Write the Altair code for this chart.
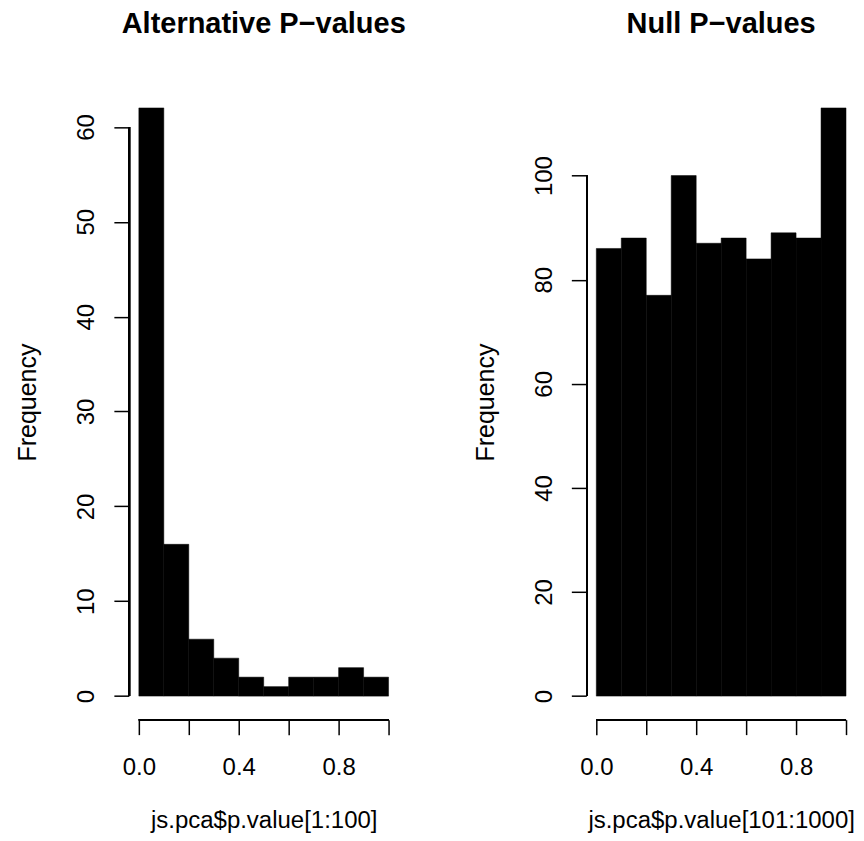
import altair as alt
import pandas as pd

# ---- data ----
bin_starts = [0.0, 0.1, 0.2, 0.3, 0.4, 0.5, 0.6, 0.7, 0.8, 0.9]
bin_ends = [0.1, 0.2, 0.3, 0.4, 0.5, 0.6, 0.7, 0.8, 0.9, 1.0]
alt_counts = [62, 16, 6, 4, 2, 1, 2, 2, 3, 2]
null_counts = [86, 88, 77, 100, 87, 88, 84, 89, 88, 113]
x_ticks = [0.0, 0.2, 0.4, 0.6, 0.8, 1.0]
alt_y_ticks = [0, 10, 20, 30, 40, 50, 60]
null_y_ticks = [0, 20, 40, 60, 80, 100]
titles = ["Alternative P\u2212values", "Null P\u2212values"]
x_titles = ["js.pca$p.value[1:100]", "js.pca$p.value[101:1000]"]
y_title = "Frequency"

FONT = "Liberation Sans"
W, H = 270, 636


def panel(counts, yticks, title, xtitle):
    df = pd.DataFrame({"start": bin_starts, "end": bin_ends, "count": counts})
    ymax = max(counts)
    xscale = alt.Scale(domain=[-0.04, 1.04], nice=False, zero=False)
    yscale = alt.Scale(domain=[-0.04 * ymax, 1.04 * ymax], nice=False, zero=False)

    xaxis = alt.Axis(
        values=x_ticks, domain=False, grid=False,
        tickSize=15, tickWidth=1.5, tickColor="black",
        labelExpr="round(datum.value*10) % 4 == 0 ? format(datum.value, '.1f') : ''",
        labelFont=FONT, labelFontSize=24, labelColor="black",
        labelBaseline="alphabetic", labelPadding=40, labelFlush=False, labelOverlap=False,
        titleFont=FONT, titleFontSize=24, titleFontWeight="normal", titleColor="black",
        titleBaseline="alphabetic", titleY=108, titleX=W / 2, titleAlign="center",
    )
    yaxis = alt.Axis(
        values=yticks, domain=False, grid=False, format="d",
        tickSize=15, tickWidth=1.5, tickColor="black",
        labelAngle=270, labelAlign="center", labelBaseline="alphabetic", labelPadding=20,
        labelFont=FONT, labelFontSize=24, labelColor="black", labelFlush=False, labelOverlap=False,
        titleFont=FONT, titleFontSize=25, titleFontWeight="normal", titleColor="black",
        titleAngle=270, titleAlign="center", titleBaseline="alphabetic",
        titleX=-93, titleY=H / 2,
    )

    bars = alt.Chart(df).mark_rect(color="black", stroke="black", strokeWidth=0.5).encode(
        x=alt.X("start:Q", scale=xscale, axis=xaxis, title=xtitle),
        x2="end:Q",
        y=alt.Y("count:Q", scale=yscale, axis=yaxis, title=y_title),
        y2=alt.datum(0),
    )
    y_line = alt.Chart(df).mark_rule(color="black", strokeWidth=1.5).encode(
        x=alt.value(0.5),
        y=alt.datum(min(yticks), type="quantitative", scale=yscale, axis=yaxis, title=y_title),
        y2=alt.datum(max(yticks)),
    )
    x_line = alt.Chart(df).mark_rule(color="black", strokeWidth=1.5).encode(
        y=alt.value(H),
        x=alt.datum(min(x_ticks), type="quantitative", scale=xscale, axis=xaxis, title=xtitle),
        x2=alt.datum(max(x_ticks)),
    )
    return alt.layer(bars, y_line, x_line).properties(
        width=W, height=H,
        title=alt.TitleParams(
            title, font=FONT, fontSize=29, fontWeight="bold", color="black",
            anchor="middle", baseline="alphabetic", offset=22, frame="group",
        ),
    )


left = panel(alt_counts, alt_y_ticks, titles[0], x_titles[0])
right = panel(null_counts, null_y_ticks, titles[1], x_titles[1])

chart = alt.hconcat(left, right, spacing=188, bounds="flush").configure_view(
    stroke=None
).properties(
    padding={"left": 8, "top": 2, "right": 0, "bottom": 0},
    background="white",
)

chart.save("out.html", embed_options={"renderer": "svg", "actions": False})
